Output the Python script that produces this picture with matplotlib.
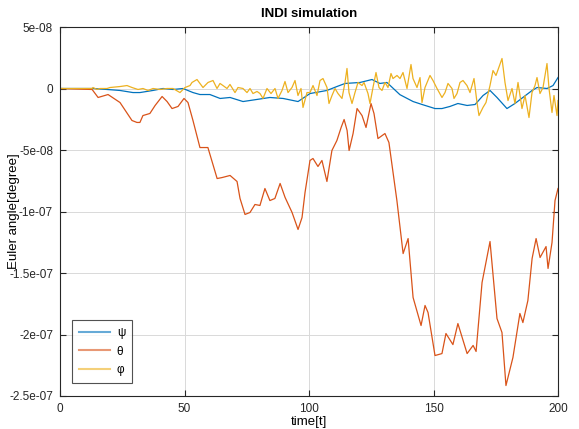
import matplotlib
matplotlib.use("Agg")
import matplotlib.pyplot as plt
import numpy as np

plt.rcParams['font.family'] = ['Liberation Sans', 'DejaVu Sans']

# theta (orange) : t, value in units of 1e-8
theta_t = [0, 12.9, 15.3, 19.3, 24.1, 28.9, 30.9, 32.1, 33.3, 36.1, 38.2, 41.0, 43.0, 45.0,
           47.4, 49.8, 51.4, 53.4, 56.2, 59.4, 63.1, 65.1, 68.3, 71.1, 72.3, 74.3, 76.3,
           78.3, 80.3, 82.3, 84.3, 86.3, 88.4, 90.4, 93.2, 95.6, 97.2, 98.4, 100.4, 101.6,
           103.6, 105.2, 107.2, 109.2, 111.2, 112.9, 114.1, 115.3, 116.1, 117.7, 119.3,
           121.3, 122.9, 124.9, 126.1, 127.7, 130.5, 132.1, 135.3, 137.8, 139.8, 141.8,
           145.0, 146.6, 147.8, 150.6, 153.4, 155.0, 157.8, 159.8, 163.5, 165.9, 167.1,
           169.5, 172.7, 175.5, 177.5, 179.1, 181.9, 184.7, 185.9, 187.9, 189.6, 191.2,
           192.8, 195.2, 196.0, 197.6, 198.8, 200]
theta_v = [0, -0.08, -0.73, -0.49, -1.14, -2.60, -2.76, -2.76, -2.20, -2.03, -1.38, -0.65,
           -1.06, -1.63, -1.46, -0.81, -1.14, -2.60, -4.80, -4.80, -7.32, -7.24, -7.07, -7.56,
           -8.94, -10.24, -10.08, -9.43, -9.51, -8.13, -9.11, -8.94, -7.72, -8.86, -10.08,
           -11.46, -10.49, -8.46, -5.85, -5.69, -6.34, -5.85, -7.56, -5.04, -4.23, -3.17,
           -2.52, -3.41, -5.04, -3.66, -1.63, -2.20, -3.17, -1.22, -2.03, -4.07, -3.66, -4.39,
           -9.11, -13.42, -12.20, -16.99, -19.27, -17.64, -18.21, -21.71, -21.55, -19.92,
           -20.82, -19.11, -21.55, -20.89, -21.38, -15.77, -12.44, -18.70, -19.84, -24.15,
           -21.87, -18.29, -19.03, -17.24, -13.82, -12.20, -13.74, -12.85, -14.63, -12.52,
           -9.11, -8.13]

# psi (blue)
psi_t = [0, 13.3, 18.9, 24.1, 29.3, 32.1, 37.3, 41.4, 45.4, 49.4, 53.4, 56.2, 60.2, 64.3,
         68.3, 73.5, 79.1, 84.3, 89.6, 95.6, 100.4, 107.2, 111.2, 114.5, 120.5, 125.3,
         128.5, 131.3, 136.5, 141.8, 145.4, 150.6, 153.4, 156.6, 159.8, 163.5, 166.7,
         169.9, 172.7, 175.5, 179.5, 182.7, 185.9, 189.6, 191.6, 195.6, 198.0, 200]
psi_v = [0, 0, -0.08, -0.16, -0.33, -0.33, -0.16, 0, -0.08, 0, -0.33, -0.49, -0.49, -0.81,
         -0.73, -1.06, -0.89, -0.73, -0.81, -1.06, -0.41, -0.16, 0.16, 0.41, 0.49, 0.73,
         0.41, 0.49, -0.50, -1.06, -1.30, -1.63, -1.63, -1.46, -1.22, -1.38, -1.30, -0.57,
         -0.16, -0.73, -1.63, -1.22, -0.73, -0.16, 0.08, 0, 0.24, 0.89]

# phi (yellow)
phi_t = [0, 12.85, 13.25, 14.86, 16.06, 18.88, 20.08, 24.10, 26.91, 28.92, 31.33, 33.33,
         35.34, 37.35, 40.16, 42.97, 45.38, 48.19, 50.20, 52.21, 53.01, 55.02, 56.22, 57.43,
         59.44, 61.45, 63.05, 64.26, 65.46, 67.07, 68.27, 70.28, 71.49, 73.49, 75.10, 76.31,
         77.51, 79.12, 80.32, 81.53, 83.13, 84.74, 86.35, 87.55, 89.16, 90.36, 91.57, 93.17,
         94.38, 95.58, 96.79, 97.59, 99.20, 100.40, 101.61, 103.21, 104.42, 105.62, 107.23,
         108.03, 109.24, 110.44, 111.65, 113.25, 114.46, 115.26, 116.06, 117.27, 118.47,
         119.68, 121.29, 122.09, 123.69, 124.50, 125.70, 126.91, 128.11, 129.32, 130.52,
         131.73, 132.93, 133.73, 135.34, 136.55, 137.75, 139.36, 140.96, 141.77, 143.37,
         144.58, 145.38, 146.59, 148.59, 149.80, 151.41, 153.41, 154.62, 155.82, 157.43,
         158.23, 159.44, 160.64, 161.85, 163.45, 164.66, 166.27, 167.47, 168.27, 169.88,
         171.08, 172.69, 173.90, 175.10, 177.51, 178.71, 179.92, 181.53, 182.73, 183.94,
         185.54, 186.75, 188.35, 189.56, 190.76, 191.57, 192.77, 193.98, 195.58, 196.39,
         197.59, 198.39, 199.60, 200]
phi_v = [0, 0, 0.08, -0.08, 0, 0, 0.08, 0.16, 0.24, 0.08, -0.08, 0, -0.16, 0, -0.08, 0, 0,
         -0.33, 0.08, 0.24, 0.49, 0.73, 0.41, 0.08, 0.49, 0.65, 0, 0.41, 0.24, 0, 0.33, -0.33,
         0.08, 0, -0.33, 0, -0.41, -0.24, -0.41, -0.81, 0, -0.41, 0, -0.81, -0.16, 0.57, -0.33,
         0.08, 0.65, -0.57, 0, -1.54, -0.33, -0.33, 0.24, -0.57, 0.65, 0.81, 0.08, -1.22,
         -0.57, 0, -0.41, -0.81, 0.49, 1.63, -0.33, -1.22, -0.33, 0.49, 0.24, 0.49, -0.41,
         -1.22, 0.08, 1.30, 0.08, -0.16, 0.49, 0.08, 1.22, 0.81, 1.06, 0.81, 1.30, 0, 1.95,
         0.81, 0.08, 0.89, -1.14, 0.08, 1.06, 0.65, 0, -0.73, -0.33, 0.41, 0, -0.81, -0.41,
         0.49, 0.65, 0.24, -0.33, 0.81, -1.14, -2.20, -1.54, -1.14, 0.24, 1.46, 1.06, 2.44,
         0.49, -0.98, 0, -1.22, 0.49, -1.63, -0.57, -2.36, -0.33, 0.24, 0.89, -0.41, 0.08,
         2.03, 0, -1.95, -0.57, -2.20, -0.98]

series_labels = ['ψ', 'θ', 'φ']
series_colors = ['#0072BD', '#D95319', '#EDB120']
title = 'INDI simulation'
xlabel = 'time[t]'
ylabel = 'Euler angle[degree]'
xticks = [0, 50, 100, 150, 200]
yticks = [5e-8, 0, -5e-8, -1e-7, -1.5e-7, -2e-7, -2.5e-7]
ytick_labels = ['5e-08', '0', '-5e-08', '-1e-07', '-1.5e-07', '-2e-07', '-2.5e-07']

scale = 1e-8
fig = plt.figure(figsize=(5.79, 4.29), dpi=100)
ax = fig.add_axes([60/579, 1 - 396/429, 498/579, 369/429])

ax.plot(psi_t, np.array(psi_v) * scale, color=series_colors[0], lw=0.9, label=series_labels[0])
ax.plot(theta_t, np.array(theta_v) * scale, color=series_colors[1], lw=0.9, label=series_labels[1])
ax.plot(phi_t, np.array(phi_v) * scale, color=series_colors[2], lw=0.9, label=series_labels[2])

ax.set_xlim(0, 200)
ax.set_ylim(-2.5e-7, 5e-8)
ax.set_xticks(xticks)
ax.set_xticklabels([str(x) for x in xticks])
ax.set_yticks(yticks)
ax.set_yticklabels(ytick_labels)
ax.tick_params(direction='in', top=True, right=True, length=4, width=0.8,
               labelsize=8.5, colors='#262626', pad=5)
ax.grid(True, color='#d9d9d9', lw=0.7)
ax.set_axisbelow(True)
for s in ax.spines.values():
    s.set_color('#262626')
    s.set_linewidth(0.8)

ax.set_title(title, fontsize=9.5, fontweight='bold', pad=7)
ax.set_xlabel(xlabel, fontsize=9.5, labelpad=1)
ax.set_ylabel(ylabel, fontsize=9.5)
ax.yaxis.set_label_coords(-0.080, 0.5)

leg = ax.legend(loc='lower left', bbox_to_anchor=(0.024, 0.035), borderaxespad=0,
                fontsize=8.5, frameon=True, fancybox=False, edgecolor='#262626',
                handlelength=2.6, borderpad=0.6, labelspacing=0.55, handletextpad=0.6)
leg.get_frame().set_linewidth(0.8)
for line in leg.get_lines():
    line.set_alpha(0.6)
    line.set_linewidth(1.5)

fig.savefig('out.png', dpi=100)
